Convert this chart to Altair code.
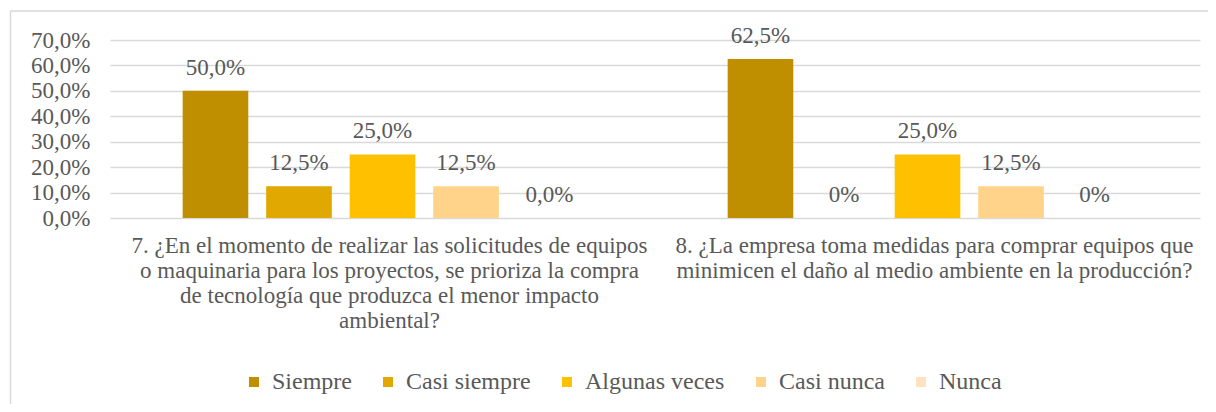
import altair as alt
import pandas as pd

questions = [
    "7. ¿En el momento de realizar las solicitudes de equipos|o maquinaria para los proyectos, se prioriza la compra|de tecnología que produzca el menor impacto|ambiental?",
    "8. ¿La empresa toma medidas para comprar equipos que|minimicen el daño al medio ambiente en la producción?",
]
answers = ["Siempre", "Casi siempre", "Algunas veces", "Casi nunca", "Nunca"]
values_q7 = [0.50, 0.125, 0.25, 0.125, 0.0]
values_q8 = [0.625, 0.0, 0.25, 0.125, 0.0]
labels_q7 = ["50,0%", "12,5%", "25,0%", "12,5%", "0,0%"]
labels_q8 = ["62,5%", "0%", "25,0%", "12,5%", "0%"]
y_ticks = [0, 0.1, 0.2, 0.3, 0.4, 0.5, 0.6, 0.7]
colors = ["#BF8F00", "#E0A800", "#FFC000", "#FFD38A", "#FFE2BF"]

rows = []
for q, vals, labs in [(questions[0], values_q7, labels_q7), (questions[1], values_q8, labels_q8)]:
    for a, v, l in zip(answers, vals, labs):
        rows.append({"pregunta": q, "respuesta": a, "valor": v, "etiqueta": l})
df = pd.DataFrame(rows)

FONT = "Liberation Serif"
TXT = "#595959"
GRID = "#D9D9D9"
FS = 23

x_enc = alt.X(
    "pregunta:N",
    sort=questions,
    scale=alt.Scale(paddingInner=0, paddingOuter=0),
    axis=alt.Axis(
        title=None,
        labelAngle=0,
        labelExpr="split(datum.label, '|')",
        labelFont=FONT,
        labelFontSize=FS,
        labelColor=TXT,
        labelLineHeight=25,
        labelPadding=16,
        labelOffset=7,
        labelLimit=0,
        labelOverlap=False,
        domain=False,
        ticks=False,
        grid=False,
    ),
)
xoff = alt.XOffset(
    "respuesta:N",
    sort=answers,
    scale=alt.Scale(paddingInner=0.214, paddingOuter=0.87),
)
y_enc = alt.Y(
    "valor:Q",
    scale=alt.Scale(domain=[0, 0.7], nice=False),
    axis=alt.Axis(
        title=None,
        values=y_ticks,
        labelExpr="replace(format(datum.value, '.1%'), '.', ',')",
        labelFont=FONT,
        labelFontSize=FS,
        labelColor=TXT,
        labelPadding=20,
        labelOverlap=False,
        labelBound=False,
        domain=False,
        ticks=False,
        grid=True,
        gridColor=GRID,
        gridWidth=1.5,
    ),
)

base = alt.Chart(df)

bars = base.mark_bar().encode(
    x=x_enc,
    xOffset=xoff,
    y=y_enc,
    color=alt.Color(
        "respuesta:N",
        sort=answers,
        scale=alt.Scale(domain=answers, range=colors),
        legend=alt.Legend(
            title=None,
            orient="none",
            direction="horizontal",
            legendX=132,
            legendY=330,
            symbolType="square",
            symbolSize=100,
            symbolStrokeWidth=0,
            labelFont=FONT,
            labelFontSize=24,
            labelColor=TXT,
            columnPadding=24,
            labelOffset=6,
        ),
    ),
)

text = base.mark_text(
    baseline="bottom", dy=-11, font=FONT, fontSize=FS, color=TXT
).encode(
    x=x_enc,
    xOffset=xoff,
    y=y_enc,
    text="etiqueta:N",
)

frame_df = pd.DataFrame({"k": [0]})
frame_left = alt.Chart(frame_df).mark_rule(color=GRID, strokeWidth=1.5).encode(
    x=alt.value(-99.5), y=alt.value(-29), y2=alt.value(400)
)
frame_top = alt.Chart(frame_df).mark_rule(color=GRID, strokeWidth=1.5).encode(
    x=alt.value(-99.5), x2=alt.value(1120), y=alt.value(-29)
)

chart = (
    alt.layer(bars, text, frame_left, frame_top)
    .properties(
        width=1090,
        height=178,
        autosize=alt.AutoSizeParams(type="none"),
        padding={"left": 102, "top": 32, "right": 8, "bottom": 186},
        background="white",
    )
    .configure(font=FONT)
    .configure_axis(labelOverlap=False)
    .configure_view(stroke=None)
)

chart.save("out.html", embed_options={"renderer": "svg", "actions": False})
